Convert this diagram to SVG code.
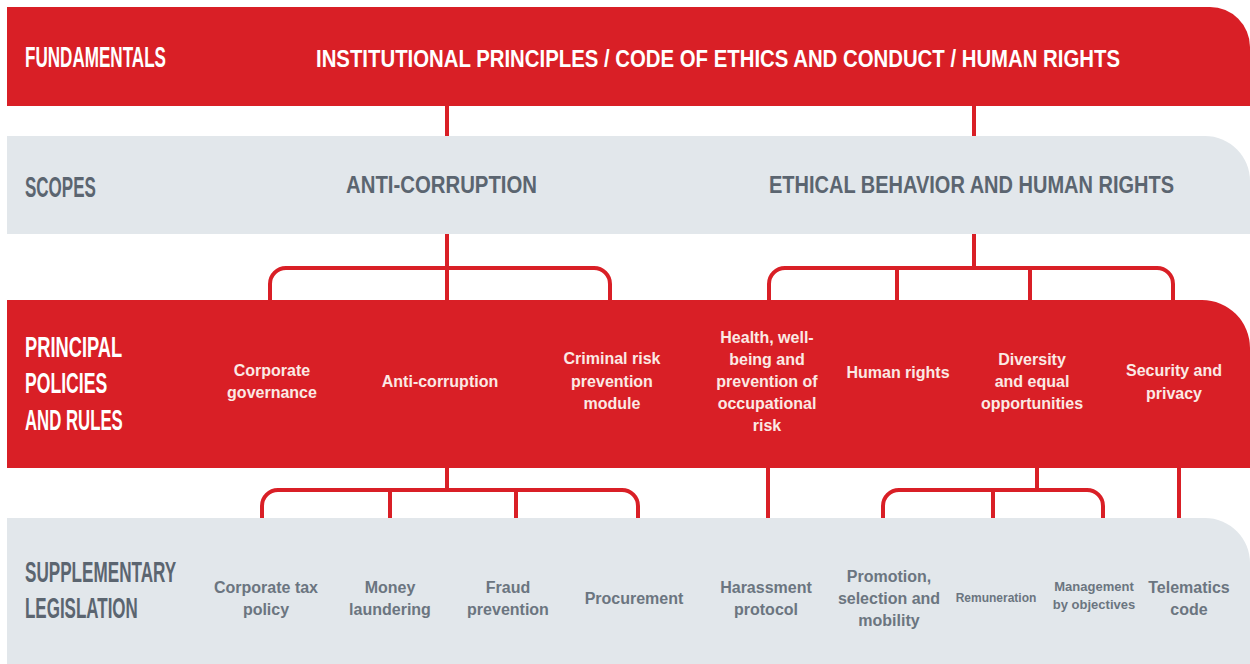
<svg xmlns="http://www.w3.org/2000/svg" width="1250" height="664" viewBox="0 0 1250 664">
<style>
.red{fill:#d91f26}
.gray{fill:#e2e7eb}
.hd{font-family:"Liberation Sans",Arial,sans-serif;font-weight:bold;font-size:29px}
.hw{fill:#ffffff}
.hg{fill:#5b6570}
.cap{font-family:"Liberation Sans",Arial,sans-serif;font-weight:bold;font-size:23px}
.it{font-family:"Liberation Sans",Arial,sans-serif;font-weight:bold;font-size:16px;text-anchor:middle}
.iw{fill:#fbe9e4}
.ig{fill:#6b7580}
.con{fill:none;stroke:#d91f26;stroke-width:4}
</style>
<rect width="1250" height="664" fill="#ffffff"/>
<g id="fundamentals">
<path class="red" d="M7,7 H1210 A40,40 0 0 1 1250,47 V106 H7 Z"/>
<text class="hd hw" transform="translate(25,67) scale(0.6,1)" x="0" y="0" textLength="235" lengthAdjust="spacingAndGlyphs">FUNDAMENTALS</text>
<text class="cap hw" x="316" y="67" textLength="804" lengthAdjust="spacingAndGlyphs">INSTITUTIONAL PRINCIPLES / CODE OF ETHICS AND CONDUCT / HUMAN RIGHTS</text>
</g>
<g id="scopes">
<path class="gray" d="M7,136 H1205 A45,45 0 0 1 1250,181 V234 H7 Z"/>
<text class="hd hg" transform="translate(25,197) scale(0.6,1)" x="0" y="0" textLength="118" lengthAdjust="spacingAndGlyphs">SCOPES</text>
<text class="cap hg" x="346" y="193" textLength="191" lengthAdjust="spacingAndGlyphs">ANTI-CORRUPTION</text>
<text class="cap hg" x="769" y="193" textLength="405" lengthAdjust="spacingAndGlyphs">ETHICAL BEHAVIOR AND HUMAN RIGHTS</text>
</g>
<g id="principal">
<path class="red" d="M7,300 H1202 A48,48 0 0 1 1250,348 V468 H7 Z"/>
<text class="hd hw" transform="translate(25,357) scale(0.6,1)" x="0" y="0" textLength="162" lengthAdjust="spacingAndGlyphs">PRINCIPAL</text>
<text class="hd hw" transform="translate(25,393) scale(0.6,1)" x="0" y="0" textLength="137" lengthAdjust="spacingAndGlyphs">POLICIES</text>
<text class="hd hw" transform="translate(25,430) scale(0.6,1)" x="0" y="0" textLength="163" lengthAdjust="spacingAndGlyphs">AND RULES</text>
<text class="it iw" x="272" y="376">Corporate</text>
<text class="it iw" x="272" y="398">governance</text>
<text class="it iw" x="440" y="387">Anti-corruption</text>
<text class="it iw" x="612" y="364">Criminal risk</text>
<text class="it iw" x="612" y="387">prevention</text>
<text class="it iw" x="612" y="409">module</text>
<text class="it iw" x="767" y="343">Health, well-</text>
<text class="it iw" x="767" y="365">being and</text>
<text class="it iw" x="767" y="387">prevention of</text>
<text class="it iw" x="767" y="409">occupational</text>
<text class="it iw" x="767" y="431">risk</text>
<text class="it iw" x="898" y="378">Human rights</text>
<text class="it iw" x="1032" y="365">Diversity</text>
<text class="it iw" x="1032" y="387">and equal</text>
<text class="it iw" x="1032" y="409">opportunities</text>
<text class="it iw" x="1174" y="376">Security and</text>
<text class="it iw" x="1174" y="399">privacy</text>
</g>
<g id="supplementary">
<path class="gray" d="M7,518 H1205 A45,45 0 0 1 1250,563 V664 H7 Z"/>
<text class="hd hg" transform="translate(25,582) scale(0.6,1)" x="0" y="0" textLength="252" lengthAdjust="spacingAndGlyphs">SUPPLEMENTARY</text>
<text class="hd hg" transform="translate(25,618) scale(0.6,1)" x="0" y="0" textLength="188" lengthAdjust="spacingAndGlyphs">LEGISLATION</text>
<text class="it ig" x="266" y="593">Corporate tax</text>
<text class="it ig" x="266" y="615">policy</text>
<text class="it ig" x="390" y="593">Money</text>
<text class="it ig" x="390" y="615">laundering</text>
<text class="it ig" x="508" y="593">Fraud</text>
<text class="it ig" x="508" y="615">prevention</text>
<text class="it ig" x="634" y="604">Procurement</text>
<text class="it ig" x="766" y="593">Harassment</text>
<text class="it ig" x="766" y="615">protocol</text>
<text class="it ig" x="889" y="582">Promotion,</text>
<text class="it ig" x="889" y="604">selection and</text>
<text class="it ig" x="889" y="626">mobility</text>
<text class="it ig" x="996" y="602" style="font-size:12px">Remuneration</text>
<text class="it ig" x="1094" y="591" style="font-size:13px">Management</text>
<text class="it ig" x="1094" y="609" style="font-size:13px">by objectives</text>
<text class="it ig" x="1189" y="593">Telematics</text>
<text class="it ig" x="1189" y="615">code</text>
</g>
<g id="connectors" class="con">
<path d="M447,106 V136"/>
<path d="M974,106 V136"/>
<path d="M447,234 V300"/>
<path d="M270,300 V284 A16,16 0 0 1 286,268 H594 A16,16 0 0 1 610,284 V300"/>
<path d="M974,234 V268"/>
<path d="M769,300 V284 A16,16 0 0 1 785,268 H1157 A16,16 0 0 1 1173,284 V300"/>
<path d="M897,268 V300"/>
<path d="M1030,268 V300"/>
<path d="M447,468 V490"/>
<path d="M262,518 V506 A16,16 0 0 1 278,490 H622 A16,16 0 0 1 638,506 V518"/>
<path d="M390,490 V518"/>
<path d="M516,490 V518"/>
<path d="M768,468 V518"/>
<path d="M1037,468 V490"/>
<path d="M883,518 V506 A16,16 0 0 1 899,490 H1087 A16,16 0 0 1 1103,506 V518"/>
<path d="M993,490 V518"/>
<path d="M1179,468 V518"/>
</g>
</svg>
